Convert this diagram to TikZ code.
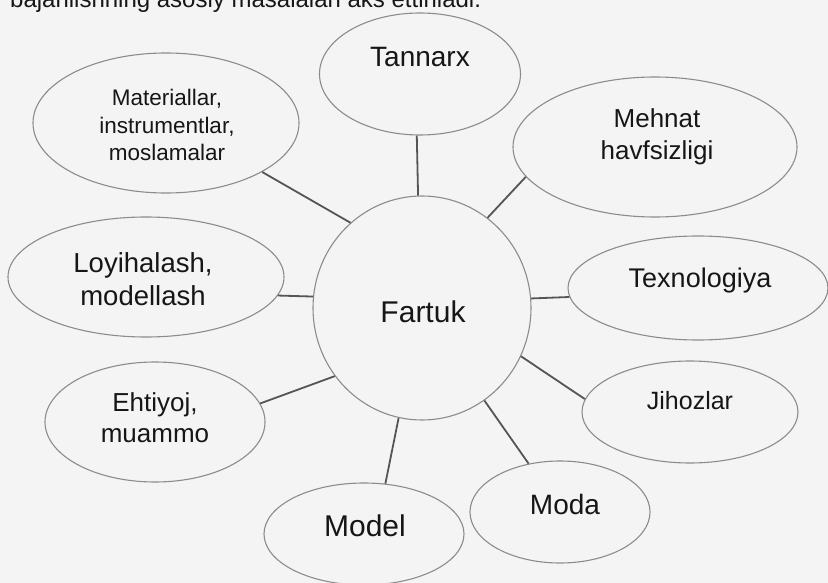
\documentclass[tikz,border=0pt]{standalone}
\usepackage{fontspec}
\setmainfont{Liberation Sans}
\usetikzlibrary{shapes.geometric}
\definecolor{bgc}{RGB}{244,244,244}
\definecolor{ringc}{RGB}{140,140,140}
\definecolor{linkc}{RGB}{85,85,85}
\definecolor{txtc}{RGB}{22,22,22}
\newcommand{\fsz}[2]{\fontsize{#1}{#2}\selectfont}
\begin{document}
\begin{tikzpicture}[x=1pt,y=-1pt,
  bub/.style={ellipse,draw=ringc,line width=1.1pt,inner sep=0pt},
  lbl/.style={text=txtc,align=center,inner sep=0pt},
  link/.style={draw=linkc,line width=1.8pt}]
\useasboundingbox (0,0) rectangle (828,583);
\fill[bgc] (0,0) rectangle (828,583);
\clip (0,0) rectangle (828,583);
% header (cut off at top)
\node[lbl,anchor=base west,font={\fsz{24}{28}}] (head) at (10,8) {bajarilishning asosiy masalalari aks ettiriladi.};
% bubbles
\node[bub,minimum width=218pt,minimum height=224pt] (far) at (422,308) {};
\node[bub,minimum width=201pt,minimum height=122pt] (tan) at (420,74) {};
\node[bub,minimum width=266pt,minimum height=140pt] (mat) at (166,123) {};
\node[bub,minimum width=284pt,minimum height=140pt] (meh) at (655,147) {};
\node[bub,minimum width=276pt,minimum height=120pt] (loy) at (146,277) {};
\node[bub,minimum width=260pt,minimum height=104pt] (tex) at (698,288) {};
\node[bub,minimum width=220pt,minimum height=120pt] (eht) at (155,422) {};
\node[bub,minimum width=216pt,minimum height=102pt] (jih) at (690,412) {};
\node[bub,minimum width=200pt,minimum height=102pt] (mod) at (364,534) {};
\node[bub,minimum width=180pt,minimum height=102pt] (moda) at (560,512) {};
% texts
\node[lbl,font={\fsz{30}{36}}] (farT) at (423,312) {Fartuk};
\node[lbl,font={\fsz{28}{34}}] (tanT) at (420,57) {Tannarx};
\node[lbl,font={\fsz{22.5}{27.5}}] (matT) at (167,125) {Materiallar,\\instrumentlar,\\moslamalar};
\node[lbl,font={\fsz{26}{32}}] (mehT) at (657,137) {Mehnat\\havfsizligi};
\node[lbl,font={\fsz{27.5}{33}}] (loyT) at (143,279) {Loyihalash,\\modellash};
\node[lbl,font={\fsz{27}{32}}] (texT) at (700,281) {Texnologiya};
\node[lbl,font={\fsz{26}{31}}] (ehtT) at (155,418) {Ehtiyoj,\\muammo};
\node[lbl,font={\fsz{25}{30}}] (jihT) at (690,401) {Jihozlar};
\node[lbl,font={\fsz{30}{36}}] (modT) at (365,526) {Model};
\node[lbl,font={\fsz{28}{34}}] (modaT) at (565,504) {Moda};
% connectors
\draw[link] (tan.267.2) -- (far.92.6);
\draw[link] (mat.-27) -- (far.130.3);
\draw[link] (meh.193.9) -- (far.54.6);
\draw[link] (loy.-8.7) -- (far.174.8);
\draw[link] (tex.184.8) -- (far.5.2);
\draw[link] (eht.10.3) -- (far.218.7);
\draw[link] (jih.173.6) -- (far.-26.8);
\draw[link] (mod.67.2) -- (far.-102.1);
\draw[link] (moda.123.9) -- (far.-56.2);
\end{tikzpicture}
\end{document}
